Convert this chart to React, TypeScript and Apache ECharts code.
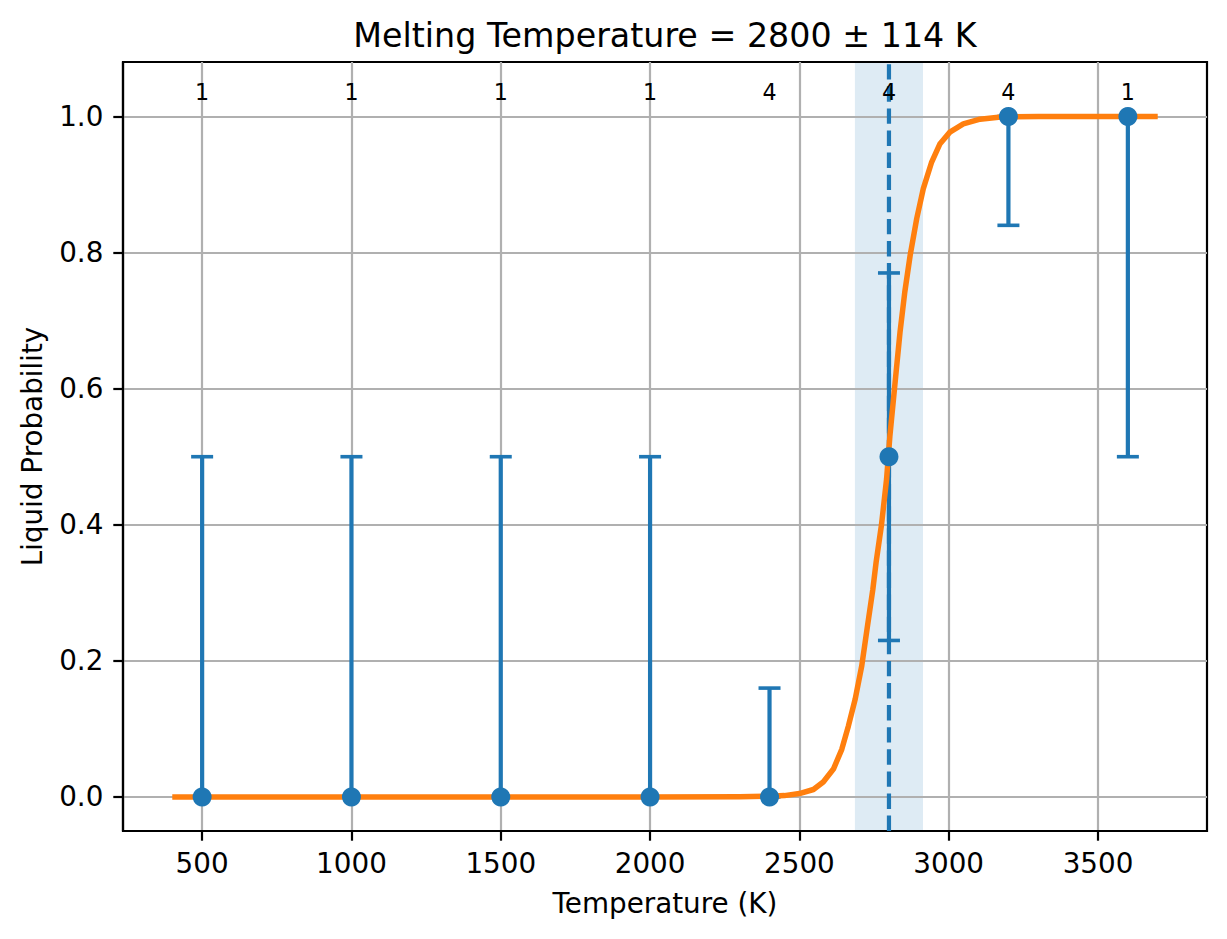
import React, { useEffect, useRef } from "react";
import * as echarts from "echarts";

// ---- data ----
const TEMPS = [500, 1000, 1500, 2000, 2400, 2800, 3200, 3600];
const PROB = [0, 0, 0, 0, 0, 0.5, 1, 1];
const ERR_LOW = [0, 0, 0, 0, 0, 0.23, 0.84, 0.5];
const ERR_HIGH = [0.5, 0.5, 0.5, 0.5, 0.16, 0.77, 1, 1];
const COUNTS = [1, 1, 1, 1, 4, 4, 4, 1];

const FIT_T = [
  400, 1000, 1500, 2000, 2300, 2400, 2450, 2500, 2547, 2580, 2614, 2642, 2664,
  2687, 2709, 2728, 2746, 2757, 2775, 2792, 2803, 2820, 2837, 2853, 2871, 2893,
  2915, 2943, 2971, 3004, 3049, 3105, 3182, 3300, 3700,
];
const FIT_P = [
  0, 0, 0, 0, 0.0005, 0.001, 0.002, 0.005, 0.011, 0.022, 0.041, 0.07, 0.104,
  0.144, 0.193, 0.251, 0.305, 0.345, 0.4, 0.467, 0.53, 0.607, 0.683, 0.742,
  0.796, 0.85, 0.894, 0.933, 0.96, 0.977, 0.989, 0.996, 0.9995, 1, 1,
];

const MELT_T = 2800;
const MELT_ERR = 114;
const X_TICKS = [500, 1000, 1500, 2000, 2500, 3000, 3500];
const Y_TICKS = [0, 0.2, 0.4, 0.6, 0.8, 1.0];
const X_RANGE = [235, 3865];
const Y_RANGE = [-0.05, 1.08];
const COUNT_LABEL_Y = 1.0365;

const TITLE = `Melting Temperature = ${MELT_T} ± ${MELT_ERR} K`;
const X_NAME = "Temperature (K)";
const Y_NAME = "Liquid Probability";

const BLUE = "#1f77b4";
const ORANGE = "#ff7f0e";
const FONT = "DejaVu Sans";

export default function App() {
  const ref = useRef<HTMLDivElement>(null);

  useEffect(() => {
    if (!ref.current) return;
    const chart = echarts.init(ref.current, undefined, { renderer: "svg" });

    const axisText = { color: "#000", fontFamily: FONT, fontSize: 27.8, lineHeight: 27.8 };

    const option: any = {
      animation: false,
      title: {
        text: TITLE,
        left: 665,
        top: 18.7,
        padding: 0,
        textAlign: "center",
        textStyle: {
          color: "#000",
          fontFamily: FONT,
          fontSize: 33.3,
          fontWeight: "normal",
          lineHeight: 33,
        },
      },
      grid: {
        left: 123,
        top: 62,
        right: 20,
        bottom: 108,
        show: true,
        borderColor: "#000",
        borderWidth: 2.2,
        backgroundColor: "transparent",
      },
      xAxis: {
        type: "value",
        min: X_RANGE[0],
        max: X_RANGE[1],
        name: X_NAME,
        nameLocation: "middle",
        nameGap: 58.7,
        nameTextStyle: { ...axisText },
        axisLine: { show: true, onZero: false, lineStyle: { color: "#000", width: 2.2 } },
        axisTick: {
          show: true,
          length: 9.7,
          customValues: X_TICKS,
          lineStyle: { color: "#000", width: 2.2 },
        },
        axisLabel: {
          customValues: X_TICKS,
          margin: 18.8,
          ...axisText,
          formatter: (v: number) => String(v),
        },
        splitLine: { show: true, lineStyle: { color: "#b0b0b0", width: 2.2 } },
      },
      yAxis: {
        type: "value",
        min: Y_RANGE[0],
        max: Y_RANGE[1],
        name: Y_NAME,
        nameLocation: "middle",
        nameGap: 77,
        nameTextStyle: { ...axisText },
        axisLine: { show: true, onZero: false, lineStyle: { color: "#000", width: 2.2 } },
        axisTick: {
          show: true,
          length: 9.7,
          customValues: Y_TICKS,
          lineStyle: { color: "#000", width: 2.2 },
        },
        axisLabel: {
          customValues: Y_TICKS,
          margin: 19.6,
          ...axisText,
          formatter: (v: number) => v.toFixed(1),
        },
        splitLine: { show: true, lineStyle: { color: "#b0b0b0", width: 2.2 } },
      },
      series: [
        {
          type: "custom",
          name: "band",
          z: -1,
          silent: true,
          data: [[MELT_T - MELT_ERR, MELT_T + MELT_ERR, 0]],
          encode: { x: [0, 1], y: 2 },
          renderItem: (params: any, api: any) => {
            const x0 = api.coord([api.value(0), 0])[0];
            const x1 = api.coord([api.value(1), 0])[0];
            const cs = params.coordSys;
            return {
              type: "rect",
              shape: { x: x0, y: cs.y, width: x1 - x0, height: cs.height },
              style: { fill: "rgba(31,119,180,0.15)" },
            };
          },
        },
        {
          type: "custom",
          name: "errorbars",
          z: 2,
          silent: true,
          data: TEMPS.map((t, i) => [t, PROB[i], ERR_LOW[i], ERR_HIGH[i]]),
          encode: { x: 0, y: 1 },
          renderItem: (_params: any, api: any) => {
            const x = api.value(0);
            const lo = api.coord([x, api.value(2)]);
            const hi = api.coord([x, api.value(3)]);
            const half = 11;
            const st = { stroke: BLUE, lineWidth: 4.2 };
            const cap = { stroke: BLUE, lineWidth: 3.6 };
            return {
              type: "group",
              children: [
                { type: "line", shape: { x1: lo[0], y1: lo[1], x2: hi[0], y2: hi[1] }, style: st },
                { type: "line", shape: { x1: lo[0] - half, y1: lo[1], x2: lo[0] + half, y2: lo[1] }, style: cap },
                { type: "line", shape: { x1: hi[0] - half, y1: hi[1], x2: hi[0] + half, y2: hi[1] }, style: cap },
              ],
            };
          },
        },
        {
          type: "custom",
          name: "melt",
          z: 2,
          silent: true,
          data: [[MELT_T, 0]],
          encode: { x: 0, y: 1 },
          renderItem: (params: any, api: any) => {
            const x = api.coord([api.value(0), 0])[0];
            const cs = params.coordSys;
            return {
              type: "line",
              shape: { x1: x, y1: cs.y + cs.height, x2: x, y2: cs.y },
              style: { stroke: BLUE, lineWidth: 4.2, lineDash: [15.4, 6.7] },
            };
          },
        },
        {
          type: "line",
          name: "fit",
          z: 3,
          silent: true,
          showSymbol: false,
          symbol: "none",
          data: FIT_T.map((t, i) => [t, FIT_P[i]]),
          lineStyle: { color: ORANGE, width: 5.5, opacity: 1, join: "round" },
          emphasis: { disabled: true },
        },
        {
          type: "scatter",
          name: "points",
          z: 4,
          silent: true,
          symbol: "circle",
          symbolSize: 19,
          itemStyle: { color: BLUE, opacity: 1 },
          data: TEMPS.map((t, i) => [t, PROB[i]]),
          emphasis: { disabled: true },
        },
        {
          type: "custom",
          name: "counts",
          z: 5,
          silent: true,
          data: TEMPS.map((t, i) => [t, COUNT_LABEL_Y, COUNTS[i]]),
          encode: { x: 0, y: 1 },
          renderItem: (_params: any, api: any) => {
            const p = api.coord([api.value(0), api.value(1)]);
            return {
              type: "text",
              x: p[0],
              y: p[1],
              style: {
                text: String(api.value(2)),
                fill: "#000",
                fontFamily: FONT,
                fontSize: 22.2,
                align: "center",
                verticalAlign: "middle",
              },
            };
          },
        },
      ],
    };

    chart.setOption(option);
    return () => chart.dispose();
  }, []);

  return (
    <div
      ref={ref}
      style={{ position: "absolute", left: 0, top: 0, width: 1227, height: 939, background: "#fff" }}
    />
  );
}
